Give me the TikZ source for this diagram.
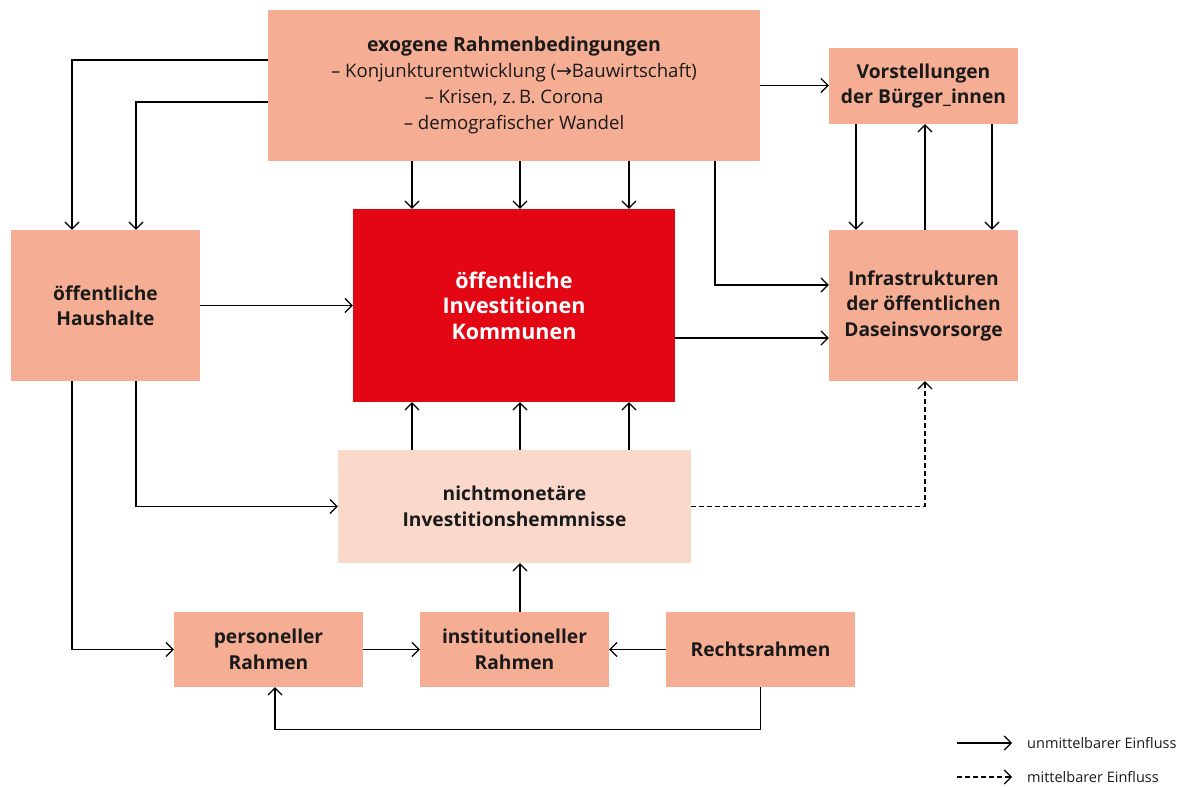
\documentclass[tikz,border=0pt]{standalone}
\usepackage{fontspec}
\setmainfont{Open Sans}
\newfontfamily\symfont{DejaVu Sans}
\usetikzlibrary{arrows.meta}
\definecolor{salmon}{HTML}{F5AE94}
\definecolor{lightsalmon}{HTML}{FAD9CB}
\definecolor{fred}{HTML}{E30613}
\definecolor{txt}{HTML}{1A1A1A}
\tikzset{
  box/.style={rectangle, fill=salmon, draw=none, align=center, text=txt, inner sep=0pt, font=\fontsize{19.2}{25.5}\selectfont\bfseries},
  arr/.style={draw=black, line width=1.2pt, -{Straight Barb[length=7pt,width=14pt,line width=1.2pt]}},
  darr/.style={arr, dash pattern=on 5pt off 3pt},
  lbl/.style={anchor=west, font=\fontsize{14.5}{16}\selectfont, text=txt, inner sep=0pt}
}
\begin{document}
\begin{tikzpicture}[x=1pt,y=-1pt]
\useasboundingbox (0,0) rectangle (1192,787);
\node[box, minimum width=492pt, minimum height=151pt, font=\fontsize{19.5}{26}\selectfont\bfseries] (exo) at (514,85.5)
  {exogene Rahmenbedingungen\\[0pt]
   \fontsize{18.6}{26}\selectfont\mdseries – Konjunkturentwicklung ({\symfont\fontsize{19}{26}\selectfont →}Bauwirtschaft)\\[0pt]
   \fontsize{18.6}{26}\selectfont\mdseries – Krisen, z.\,B. Corona\\[0pt]
   \fontsize{18.6}{26}\selectfont\mdseries – demografischer Wandel};
\node[box, minimum width=189pt, minimum height=76pt] (vor) at (923.5,86) {Vorstellungen\\der Bürger\_innen};
\node[box, minimum width=189pt, minimum height=151pt] (hh) at (105.5,305.5) {öffentliche\\Haushalte};
\node[box, fill=fred, text=white, minimum width=322pt, minimum height=193pt, font=\fontsize{21.5}{25.5}\selectfont\bfseries] (inv) at (514,305.5) {öffentliche\\Investitionen\\Kommunen};
\node[box, minimum width=189pt, minimum height=151pt] (inf) at (923.5,305.5) {Infrastrukturen\\der öffentlichen\\Daseinsvorsorge};
\node[box, fill=lightsalmon, minimum width=353pt, minimum height=113pt] (nm) at (514.5,506.5) {nichtmonetäre\\Investitionshemmnisse};
\node[box, minimum width=189pt, minimum height=75pt] (per) at (268.5,649.5) {personeller\\Rahmen};
\node[box, minimum width=189pt, minimum height=75pt] (ins) at (514.5,649.5) {institutioneller\\Rahmen};
\node[box, minimum width=189pt, minimum height=75pt] (rr) at (760.5,649.5) {Rechtsrahmen};
% exo connectors
\draw[arr] ([yshift=25.5pt]exo.west) -| ([xshift=-33.5pt]hh.north);
\draw[arr] ([yshift=-16.5pt]exo.west) -| ([xshift=30.5pt]hh.north);
\draw[arr] ([xshift=-102pt]exo.south) -- ([xshift=-102pt]inv.north);
\draw[arr] ([xshift=6pt]exo.south) -- ([xshift=6pt]inv.north);
\draw[arr] ([xshift=115pt]exo.south) -- ([xshift=115pt]inv.north);
\draw[arr] (exo.east) -- (exo.east -| vor.west);
\draw[arr] ([xshift=201pt]exo.south) |- ([yshift=20.5pt]inf.west);
% Vorstellungen <-> Infrastrukturen
\draw[arr] ([xshift=-67.5pt]vor.south) -- ([xshift=-67.5pt]inf.north);
\draw[arr] ([xshift=1.5pt]inf.north) -- ([xshift=1.5pt]vor.south);
\draw[arr] ([xshift=68.5pt]vor.south) -- ([xshift=68.5pt]inf.north);
% Haushalte
\draw[arr] (hh.east) -- (hh.east -| inv.west);
\draw[arr] ([yshift=-32.5pt]inv.east) -- ([yshift=-32.5pt]inf.west);
\draw[arr] ([xshift=30.5pt]hh.south) |- (nm.west);
\draw[arr] ([xshift=-33.5pt]hh.south) |- (per.west);
% nichtmonetaere up
\draw[arr] ([xshift=-102.5pt]nm.north) -- ([xshift=-102pt]inv.south);
\draw[arr] ([xshift=5.5pt]nm.north) -- ([xshift=6pt]inv.south);
\draw[arr] ([xshift=114.5pt]nm.north) -- ([xshift=115pt]inv.south);
\draw[darr] (nm.east) -| ([xshift=1.5pt]inf.south);
% bottom row
\draw[arr] ([xshift=5.5pt]ins.north) -- ([xshift=5.5pt]nm.south);
\draw[arr] (per.east) -- (ins.west);
\draw[arr] (rr.west) -- (ins.east);
\draw[arr] (rr.south) -- ++(0,42) -| ([xshift=6.5pt]per.south);
% legend
\coordinate (l1a) at (957,743);
\coordinate (l1b) at (1012,743);
\coordinate (l2a) at (957,777);
\coordinate (l2b) at (1012,777);
\draw[arr] (l1a) -- (l1b);
\draw[darr] (l2a) -- (l2b);
\node[lbl] (t1) at (1027,743) {unmittelbarer Einfluss};
\node[lbl] (t2) at (1027,777) {mittelbarer Einfluss};
\end{tikzpicture}
\end{document}
